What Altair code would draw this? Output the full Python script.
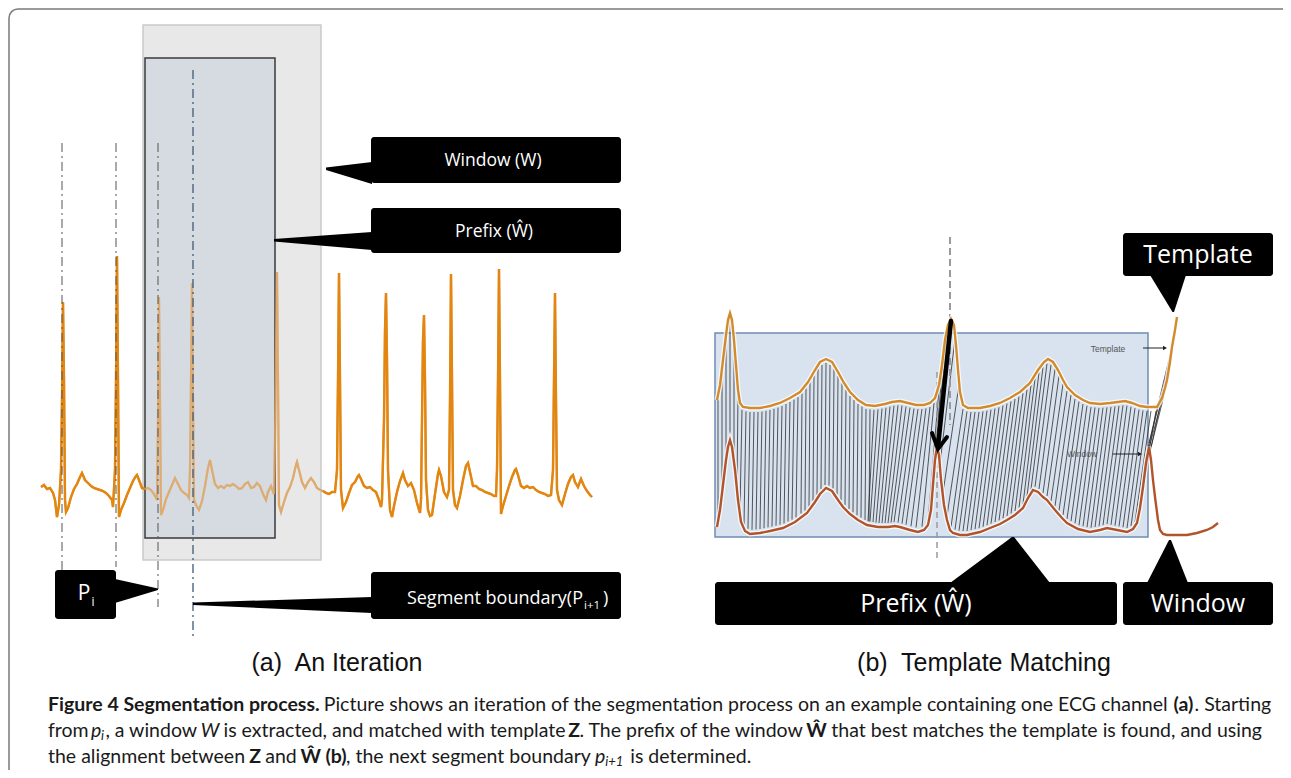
import altair as alt
import pandas as pd
import numpy as np

# ---------------- data (figure coordinates, px) ----------------
# Panel (a): single ECG channel
ecg_xy = [(41,487),(44,485),(47,489),(50,488),(53,493),(55,500),(57,517),(59,505),(61,470),(62,400),(63,302),(64,380),(65,500),(66,512),(68,508),(71,497),(74,489),(77,484),(80,477),(82,473),(85,480),(88,483),(91,486),(94,488),(97,489),(100,490),(103,491),(106,493),(109,496),(112,500),(113,507),(115,470),(116,380),(117,256),(118,380),(119,517),(121,510),(124,503),(127,495),(130,488),(133,481),(136,476),(137,475),(139,480),(142,488),(145,489),(148,488),(151,490),(154,494),(157,500),(158,420),(159,297),(160,400),(161,515),(163,510),(166,499),(169,492),(172,485),(175,478),(178,484),(181,490),(184,493),(187,495),(189,498),(190,470),(191,380),(192,283),(193,400),(194,500),(196,505),(199,510),(202,501),(205,486),(208,468),(210,460),(212,470),(215,484),(218,488),(221,486),(224,488),(227,485),(230,486),(233,484),(236,486),(239,489),(242,488),(245,484),(248,482),(251,488),(254,487),(257,483),(260,486),(263,494),(266,500),(268,492),(271,486),(274,494),(275,440),(276,350),(277,272),(278,380),(279,505),(281,512),(284,502),(287,493),(290,487),(293,478),(296,465),(297,462),(299,470),(302,482),(305,488),(308,482),(311,478),(314,482),(317,488),(320,490),(323,491),(326,493),(329,494),(332,492),(335,492),(337,470),(338,380),(339,273),(340,380),(341,490),(343,508),(346,502),(349,493),(352,485),(355,482),(358,476),(359,475),(361,479),(364,486),(367,488),(370,487),(373,490),(376,492),(379,500),(381,507),(382,500),(384,420),(385,330),(386,293),(387,360),(388,470),(390,510),(392,517),(394,506),(397,492),(400,481),(403,473),(405,480),(408,486),(411,483),(414,490),(417,503),(420,513),(421,500),(422,420),(423,340),(424,315),(425,380),(426,480),(428,510),(430,516),(432,515),(435,494),(438,474),(439,470),(441,476),(444,492),(447,497),(449,490),(450,400),(451,274),(452,380),(453,490),(455,505),(457,508),(460,496),(463,480),(466,466),(468,463),(470,472),(473,486),(476,486),(479,489),(482,490),(485,492),(488,493),(491,494),(494,496),(496,496),(497,470),(498,380),(499,269),(500,380),(501,514),(503,506),(506,496),(509,486),(512,477),(515,470),(516,469),(518,475),(521,486),(524,488),(527,486),(530,488),(533,487),(536,490),(539,492),(542,493),(545,494),(548,496),(551,495),(553,470),(554,380),(555,293),(556,400),(557,490),(559,500),(562,505),(565,494),(568,484),(571,477),(573,475),(575,482),(578,487),(581,479),(584,486),(587,491),(590,495),(592,497)]

# dash-dot boundary markers in panel (a): x, y-top, y-bottom
marker_x = [62, 116, 158]
marker_top = [143, 143, 143]
marker_bot = [572, 567, 607]
boundary_x = 193
boundary_top, boundary_bot = 70, 638

# Panel (b): template (top) and window (bottom) curves
template_xy = [(717,400),(720,385),(723,360),(726,335),(728,320),(730,313),(732,320),(734,340),(736,365),(738,390),(740,403),(743,407),(750,408),(760,408),(770,406),(780,403),(790,398),(800,392),(808,382),(815,370),(820,362),(826,359),(832,362),(838,372),(844,383),(850,392),(858,400),(866,405),(875,406),(885,404),(892,402),(900,401),(908,403),(916,405),(924,405),(930,403),(935,398),(939,385),(942,365),(945,340),(948,325),(951,319),(954,325),(956,345),(958,370),(960,392),(963,405),(968,408),(980,408),(990,406),(1000,403),(1010,398),(1020,392),(1030,383),(1038,370),(1044,362),(1048,359),(1053,362),(1058,370),(1063,380),(1067,387),(1075,395),(1083,400),(1090,403),(1100,404),(1110,403),(1118,402),(1125,401),(1132,403),(1140,406),(1147,407),(1157,407),(1162,398),(1165,388),(1167,380),(1170,362),(1172,347),(1175,330),(1177,317)]
window_xy = [(717,527),(720,510),(723,485),(726,460),(728,447),(730,440),(732,447),(735,470),(738,500),(741,522),(745,531),(750,534),(760,533),(770,531),(783,528),(795,522),(807,513),(815,502),(820,494),(826,488),(832,491),(838,500),(843,507),(850,514),(858,520),(867,525),(878,527),(888,527),(895,526),(900,527),(910,530),(918,532),(924,530),(928,525),(931,510),(933,485),(935,460),(937,447),(939,455),(941,480),(944,505),(947,520),(950,530),(953,533),(960,535),(967,535),(980,532),(990,528),(1000,524),(1007,520),(1015,515),(1023,508),(1028,498),(1033,490),(1038,492),(1043,497),(1047,500),(1055,510),(1062,518),(1067,523),(1078,529),(1090,532),(1100,530),(1107,528),(1117,530),(1127,532),(1133,529),(1137,523),(1140,508),(1143,487),(1146,463),(1149,447),(1151,460),(1153,480),(1155,497),(1158,520),(1160,530),(1163,534),(1167,535),(1177,535),(1187,535),(1197,533),(1207,530),(1213,527),(1218,523)]

# alignment (warping) lines: template x -> window x
align_top_x = [718,722,726,730,734,
    738,742,746,750,754,758,762,766,770,774,778,782,786,790,794,798,
    802,806,810,814,818,822,826,830,834,838,842,846,850,854,858,862,866,870,
    874,878,882,886,890,894,898,902,906,910,914,918,922,926,930,934,
    939,943,947,951,955,
    959,963,967,971,975,979,983,987,991,995,999,1003,1007,1011,1015,1019,1023,1027,
    1031,1035,1039,1043,1047,1051,1055,1059,1063,1067,1071,1075,1079,1083,1087,1091,1095,1099,
    1103,1107,1111,1115,1119,1123,1127,1131,1135,1139,1143,1147,1151,
    1156,1160,1164,1168,1172,1175]
align_bot_x = [718,722,726,730,734,
    737,740,744,748,752,756,760,764,768,772,776,780,784,788,792,796,
    801,805,809,813,817,821,825,829,833,837,841,845,849,853,857,861,865,869,
    868,870,873,876,879,882,885,888,891,894,898,902,906,911,916,922,
    928,931,934,937,940,
    943,947,951,955,959,963,967,971,975,979,983,987,991,995,999,1003,1007,1011,
    1015,1019,1023,1027,1031,1035,1039,1043,1047,1051,1055,1059,1063,1067,1071,1075,1079,1083,
    1087,1091,1095,1099,1103,1107,1111,1115,1119,1123,1127,1131,1135,
    1139,1142,1144,1146,1148,1149]
assert len(align_top_x) == len(align_bot_x)

# caption segments: (text, style, width at 17.5px Lato, space before)
caption_lines = [
    [("Figure 4 Segmentation process.", "b", 243, 0),
     ("Picture shows an iteration of the segmentation process on an example containing one ECG channel", "n", 758, 1),
     ("(a)", "b", 19, 1), (". Starting", "n", 66, 0)],
    [("from", "n", 34, 0), ("p", "i", 9, 1), ("i", "s", 4, 0), (", a window", "n", 81, 0), ("W", "i", 16, 1),
     ("is extracted, and matched with template", "n", 305, 1), ("Z", "b", 10, 1),
     (". The prefix of the window", "n", 199, 0), ("Ŵ", "b", 18, 1),
     ("that best matches the template is found, and using", "n", 386, 1)],
    [("the alignment between", "n", 176, 0), ("Z", "b", 10, 1), ("and", "n", 27, 1), ("Ŵ (b)", "b", 41, 1),
     (", the next segment boundary", "n", 219, 0), ("p", "i", 9, 1), ("i+1", "s", 18, 0),
     ("is determined.", "n", 108, 1)],
]
caption_y = [705, 731, 757]

# ---------------- scales ----------------
X0, X1, Y0, Y1 = 8, 1283, 8, 770
xs = alt.Scale(domain=[X0, X1], nice=False, zero=False)
ys = alt.Scale(domain=[Y0, Y1], nice=False, zero=False, reverse=True)
AX = dict(axis=None, scale=xs)
AY = dict(axis=None, scale=ys)

def rects(rows, **kw):
    df = pd.DataFrame(rows, columns=["x0", "x1", "y0", "y1"])
    return alt.Chart(df).mark_rect(**kw).encode(
        x=alt.X("x0:Q", **AX), x2="x1:Q", y=alt.Y("y0:Q", **AY), y2="y1:Q")

def texts(rows, **kw):
    df = pd.DataFrame(rows, columns=["x", "y", "t"])
    return alt.Chart(df).mark_text(**kw).encode(
        x=alt.X("x:Q", **AX), y=alt.Y("y:Q", **AY), text="t:N")

def lines(df, **kw):
    return alt.Chart(df).mark_line(**kw).encode(
        x=alt.X("x:Q", **AX), y=alt.Y("y:Q", **AY), order="i:Q", detail="g:N")

def vrules(rows, **kw):
    df = pd.DataFrame(rows, columns=["x", "y0", "y1"])
    return alt.Chart(df).mark_rule(**kw).encode(
        x=alt.X("x:Q", **AX), y=alt.Y("y0:Q", **AY), y2="y1:Q")

def pointer_h(rows):
    df = pd.DataFrame(rows, columns=["x", "y0", "y1"])
    return alt.Chart(df).mark_area(color="black", interpolate="linear").encode(
        x=alt.X("x:Q", **AX), y=alt.Y("y0:Q", **AY), y2="y1:Q")

def pointer_v(rows):
    df = pd.DataFrame(rows, columns=["y", "x0", "x1"])
    return alt.Chart(df).mark_area(color="black", orient="horizontal", interpolate="linear").encode(
        y=alt.Y("y:Q", **AY), x=alt.X("x0:Q", **AX), x2="x1:Q")

def pts(xy, g=0):
    return pd.DataFrame({"x": [p[0] for p in xy], "y": [p[1] for p in xy],
                         "i": range(len(xy)), "g": g})

layers = []

# outer frame
layers.append(rects([(9, 1320, 9, 820)], stroke="#7a7a7a", strokeWidth=1.5,
                    cornerRadius=9, clip=True, filled=False))

# ----- panel (a) -----
ecg = pts(ecg_xy)
layers.append(lines(ecg, color="#dfa566", strokeWidth=2.2))
strong = ecg[(ecg.x <= 145) | (ecg.x >= 321)].copy()
strong["g"] = np.where(strong.x <= 145, 0, 1)
layers.append(rects([(143, 321, 25, 560)], fill="#d9d9d9", opacity=0.6, stroke="#a8a8a8", strokeWidth=1.5))
layers.append(rects([(145, 275, 58, 538)], fill="#c6cfdd", opacity=0.55))
layers.append(rects([(145, 275, 58, 538)], filled=False, stroke="#3a3a3a", strokeWidth=1.5))
layers.append(lines(ecg[(ecg.x >= 143) & (ecg.x <= 322)].assign(g=0), color="#e0a662",
                    strokeWidth=2.2, opacity=0.85))
layers.append(lines(strong, color="#e3860f", strokeWidth=2.4))

layers.append(vrules(list(zip(marker_x, marker_top, marker_bot)), color="#555555",
                     strokeWidth=1, strokeDash=[9, 4, 2, 4]))
layers.append(vrules([(boundary_x, boundary_top, boundary_bot)], color="#3d5a78",
                     strokeWidth=1.3, strokeDash=[9, 4, 2, 4]))

# callout boxes (a)
layers.append(rects([(371, 621, 137, 183), (371, 621, 208, 253), (371, 621, 572, 619), (55, 116, 570, 619)],
                    color="black", cornerRadius=3))
layers.append(pointer_h([(326, 167.5, 170), (372, 162, 184)]))
layers.append(pointer_h([(274, 239, 241.5), (372, 232, 250)]))
layers.append(pointer_h([(193, 602.5, 605), (372, 597, 613)]))
layers.append(pointer_h([(115, 579, 603), (158, 588.5, 590)]))
layers.append(texts([(493, 161, "Window (W)"), (494, 232, "Prefix (Ŵ)")],
                    font="Open Sans", fontSize=17.5, color="white", baseline="middle"))
layers.append(texts([(583, 599, "Segment boundary(P")], font="Open Sans", fontSize=18,
                    color="white", align="right", baseline="middle"))
layers.append(texts([(584, 606, "i+1")], font="Open Sans", fontSize=11.5, color="white",
                    align="left", baseline="middle"))
layers.append(texts([(603, 599, ")")], font="Open Sans", fontSize=18, color="white",
                    align="left", baseline="middle"))
layers.append(texts([(84, 594, "P")], font="Open Sans", fontSize=21, color="white", baseline="middle"))
layers.append(texts([(93, 602, "i")], font="Open Sans", fontSize=12, color="white", baseline="middle"))

# ----- panel (b) -----
layers.append(rects([(715, 1148, 333, 537)], fill="#d8e3ef", stroke="#6f8db3", strokeWidth=1.5))

tx = np.array([p[0] for p in template_xy]); ty = np.array([p[1] for p in template_xy])
wx = np.array([p[0] for p in window_xy]); wy = np.array([p[1] for p in window_xy])
top_x = np.array(align_top_x, float); bot_x = np.array(align_bot_x, float)
al = pd.DataFrame({
    "x": np.concatenate([top_x, bot_x]),
    "y": np.concatenate([np.interp(top_x, tx, ty) + 4, np.interp(bot_x, wx, wy) - 4]),
    "i": [0] * len(top_x) + [1] * len(bot_x),
    "g": list(range(len(top_x))) * 2,
})
layers.append(lines(al, color="#262626", strokeWidth=0.9, opacity=0.85))

layers.append(vrules([(950, 237, 425)], color="#9a9a9a", strokeWidth=2, strokeDash=[7, 4]))
layers.append(vrules([(937, 372, 558)], color="#9a9a9a", strokeWidth=1.5, strokeDash=[6, 4]))

layers.append(lines(pts(template_xy), color="white", strokeWidth=5, opacity=0.8))
layers.append(lines(pts(window_xy), color="white", strokeWidth=5, opacity=0.8))
layers.append(lines(pts(template_xy), color="#d38a2c", strokeWidth=2.4))
layers.append(lines(pts(window_xy), color="#b1532b", strokeWidth=2.4))

# big arrow
arrow_shaft = pd.DataFrame({"x": [951, 938], "y": [321, 447], "i": [0, 1], "g": 0})
layers.append(lines(arrow_shaft, color="black", strokeWidth=4.5, strokeCap="round"))
arrow_head = pd.DataFrame({"x": [932, 938, 947], "y": [433, 449, 437], "i": [0, 1, 2], "g": 0})
layers.append(lines(arrow_head, color="black", strokeWidth=4, strokeCap="round", strokeJoin="miter"))

# small inner labels with arrows
layers.append(texts([(1108, 349, "Template"), (1082, 454, "Window")], font="Liberation Sans",
                    fontSize=8.5, color="#555555", baseline="middle"))
small_arrows = pd.DataFrame({"x": [1143, 1164, 1113, 1139], "y": [348, 348, 454, 454],
                             "i": [0, 1, 0, 1], "g": [0, 0, 1, 1]})
layers.append(lines(small_arrows, color="#222222", strokeWidth=1))
heads = pd.DataFrame({"x": [1165, 1140], "y": [348, 454]})
layers.append(alt.Chart(heads).mark_point(shape="triangle-right", filled=True, color="#222222",
                                          size=22, opacity=1).encode(
    x=alt.X("x:Q", **AX), y=alt.Y("y:Q", **AY)))

# callouts (b)
layers.append(rects([(1123, 1273, 233, 276), (715, 1117, 582, 625), (1123, 1273, 582, 625)],
                    color="black", cornerRadius=3))
layers.append(pointer_v([(275, 1150, 1186), (312, 1172.5, 1174)]))
layers.append(pointer_v([(537, 1012, 1014), (583, 950, 1050)]))
layers.append(pointer_v([(540, 1169, 1171), (583, 1147, 1188)]))
layers.append(texts([(1198, 255, "Template"), (916, 604, "Prefix (Ŵ)"), (1198, 604, "Window")],
                    font="Open Sans", fontSize=25, color="white", baseline="middle"))

# sub-figure captions
layers.append(texts([(337, 663, "(a)\u00a0 An Iteration"), (984, 663, "(b)\u00a0 Template Matching")],
                    font="Liberation Sans", fontSize=25, color="#111111", baseline="middle"))

# figure caption (mixed styles), segments laid out left to right
CF = "Lato"; CS = 19.5
scale = CS / 17.5
SPACE = 4.5 * scale
rows = {"n": [], "b": [], "i": [], "s": []}
for segs, yy in zip(caption_lines, caption_y):
    cx = 48.0
    for t, st, w, sp in segs:
        if sp:
            cx += SPACE
        rows[st].append((cx, yy + (5 if st == "s" else 0), t))
        cx += w * scale
layers.append(texts(rows["n"], font=CF, fontSize=CS, color="#1a1a1a", align="left", baseline="middle"))
layers.append(texts(rows["b"], font=CF, fontSize=CS, fontWeight="bold", color="#1a1a1a", align="left", baseline="middle"))
layers.append(texts(rows["i"], font=CF, fontSize=CS, fontStyle="italic", color="#1a1a1a", align="left", baseline="middle"))
layers.append(texts(rows["s"], font=CF, fontSize=13, fontStyle="italic", color="#1a1a1a", align="left", baseline="middle"))

chart = alt.layer(*layers).properties(
    width=1275, height=762, padding=0,
    autosize=alt.AutoSizeParams(type="fit", contains="padding"),
    background="white",
).configure_view(stroke=None)

chart.save("out.html", embed_options={"renderer": "svg", "actions": False})
